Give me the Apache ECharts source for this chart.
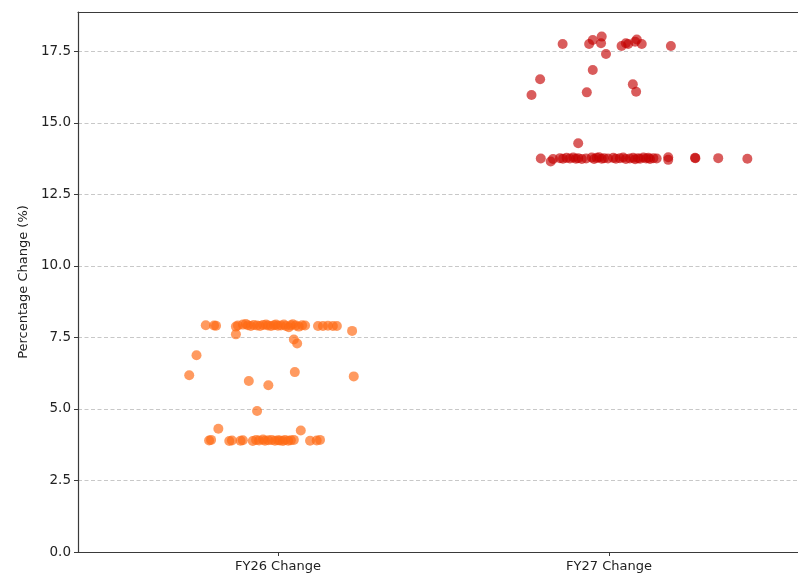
<!DOCTYPE html>
<html>
<head>
<meta charset="utf-8">
<script src="https://cdn.jsdelivr.net/npm/echarts@6/dist/echarts.min.js"></script>
<style>html,body{margin:0;padding:0;background:#fff}#c{width:798px;height:576px}</style>
</head>
<body>
<div id="c"></div>
<script>
const categories = ['FY26 Change', 'FY27 Change'];
const yTicks = [0, 2.5, 5, 7.5, 10, 12.5, 15, 17.5];

const fy26Values = [
  7.93, 7.92, 7.91, 7.88, 7.92, 7.95, 7.97, 7.93, 7.90, 7.94, 7.92, 7.90, 7.94, 7.95, 7.92, 7.90, 7.93,
  7.95, 7.91, 7.92, 7.95, 7.90, 7.86, 7.93, 7.96, 7.92, 7.88, 7.93, 7.92, 7.90, 7.90, 7.91, 7.90, 7.90,
  7.73, 7.61, 7.43, 7.29, 6.88, 6.18, 5.98, 5.83, 6.29, 6.14, 4.93, 4.31, 4.25,
  3.90, 3.92, 3.88, 3.90, 3.89, 3.91, 3.88, 3.92, 3.90, 3.93, 3.89, 3.91, 3.92, 3.89, 3.91, 3.90,
  3.88, 3.92, 3.89, 3.91, 3.92, 3.89, 3.90, 3.92
];
const fy26Jitter = [
  -0.218, -0.193, -0.187, -0.127, -0.121, -0.106, -0.097, -0.091, -0.082, -0.073, -0.063, -0.054, -0.045, -0.036, -0.030, -0.021, -0.012,
  -0.006, 0.000, 0.009, 0.018, 0.024, 0.033, 0.039, 0.045, 0.054, 0.063, 0.073, 0.082, 0.121, 0.136, 0.151, 0.166, 0.178,
  0.224, -0.127, 0.048, 0.058, -0.246, -0.268, -0.088, -0.029, 0.051, 0.229, -0.063, -0.180, 0.069,
  -0.208, -0.202, -0.147, -0.139, -0.113, -0.106, -0.076, -0.066, -0.057, -0.045, -0.039, -0.029, -0.019, -0.009, 0.000, 0.006,
  0.015, 0.021, 0.031, 0.039, 0.048, 0.097, 0.117, 0.127
];

const fy27Values = [
  17.76, 17.76, 17.90, 18.02, 17.79, 17.41, 17.69, 17.79, 17.76, 17.84, 17.92, 17.76, 17.69,
  16.85, 16.53, 15.98, 16.07, 16.35, 16.09, 14.29,
  13.76, 13.65, 13.74, 13.77, 13.75, 13.78, 13.76, 13.79, 13.75, 13.77, 13.74, 13.76, 13.79, 13.74,
  13.78, 13.80, 13.75, 13.77, 13.76, 13.78, 13.75, 13.77, 13.79, 13.74, 13.76, 13.78, 13.73, 13.77,
  13.75, 13.79, 13.76, 13.78, 13.74, 13.77, 13.76, 13.71, 13.80, 13.78, 13.77, 13.77, 13.75
];
const fy27Jitter = [
  -0.140, -0.060, -0.049, -0.022, -0.024, -0.009, 0.038, 0.051, 0.058, 0.079, 0.084, 0.099, 0.187,
  -0.049, -0.208, -0.234, -0.067, 0.072, 0.082, -0.093,
  -0.206, -0.176, -0.169, -0.148, -0.139, -0.128, -0.118, -0.108, -0.100, -0.093, -0.082, -0.069, -0.052, -0.045,
  -0.037, -0.030, -0.022, -0.015, -0.003, 0.013, 0.021, 0.033, 0.043, 0.051, 0.063, 0.073, 0.079, 0.088,
  0.094, 0.104, 0.112, 0.119, 0.124, 0.134, 0.144, 0.179, 0.179, 0.260, 0.261, 0.330, 0.418
];

const FONT = 'DejaVu Sans';
const toPoints = (vals, jit, idx) => vals.map((v, i) => [idx + jit[i], v]);

const chart = echarts.init(document.getElementById('c'), null, { renderer: 'canvas' });
chart.setOption({
  animation: false,
  grid: { left: 78, right: 0, top: 12, bottom: 24, containLabel: false },
  xAxis: [
    {
      type: 'value', min: -0.604, max: 1.571, position: 'bottom',
      axisLine: { show: true, onZero: false, lineStyle: { color: '#3a3a3a', width: 1.2 } },
      axisTick: { show: true, length: 4, customValues: [0, 1], lineStyle: { color: '#3a3a3a' } },
      axisLabel: {
        show: true, customValues: [0, 1], margin: 8,
        formatter: v => categories[Math.round(v)] || '',
        color: '#222', fontFamily: FONT, fontSize: 13
      },
      splitLine: { show: false }
    },
    {
      type: 'value', min: -0.604, max: 1.571, position: 'top',
      axisLine: { show: true, onZero: false, lineStyle: { color: '#3a3a3a', width: 1.2 } },
      axisTick: { show: false }, axisLabel: { show: false }, splitLine: { show: false }
    }
  ],
  yAxis: {
    type: 'value', min: 0, max: 18.88, interval: 2.5,
    name: 'Percentage Change (%)', nameLocation: 'middle', nameGap: 47,
    nameTextStyle: { color: '#222', fontFamily: FONT, fontSize: 13 },
    axisLine: { show: true, onZero: false, lineStyle: { color: '#3a3a3a', width: 1.2 } },
    axisTick: { show: true, length: 4, customValues: yTicks, lineStyle: { color: '#3a3a3a' } },
    axisLabel: {
      customValues: yTicks, margin: 7, formatter: v => v.toFixed(1),
      color: '#222', fontFamily: FONT, fontSize: 13.5
    },
    splitLine: { show: true, lineStyle: { color: '#c8c8c8', width: 1, type: [4, 2.5] } }
  },
  series: [
    {
      type: 'scatter', name: categories[0], data: toPoints(fy26Values, fy26Jitter, 0),
      symbolSize: 10, itemStyle: { color: '#ff6a14', opacity: 0.68 }
    },
    {
      type: 'scatter', name: categories[1], data: toPoints(fy27Values, fy27Jitter, 1),
      symbolSize: 10, itemStyle: { color: '#c40000', opacity: 0.64 }
    }
  ]
});
</script>
</body>
</html>
